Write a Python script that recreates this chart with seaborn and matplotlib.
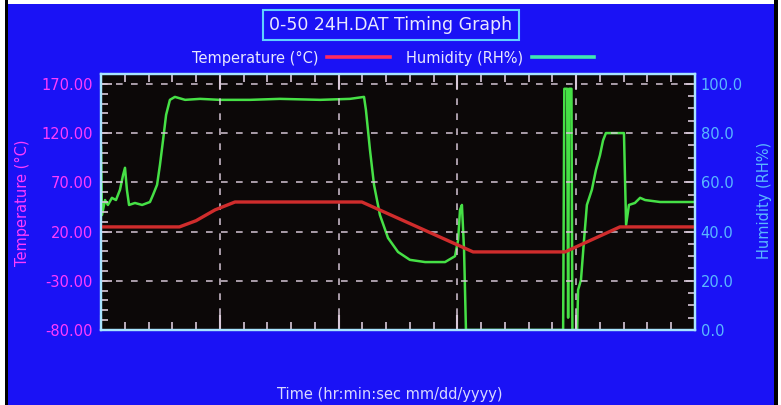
import numpy as np
import pandas as pd
import matplotlib
matplotlib.use('Agg')
import matplotlib.pyplot as plt
from matplotlib.ticker import MultipleLocator, FormatStrFormatter
from matplotlib.lines import Line2D
from matplotlib.patches import Rectangle
import seaborn as sns

# time axis has no labels in the original, so x is just 0..25 divisions
temp_time = [0.0, 3.3, 4.0, 4.8, 5.64, 10.98, 15.66, 19.53, 21.84, 25.0]
temp_vals = [24.7, 24.7, 31.0, 42.0, 50.0, 50.0, -0.7, -0.7, 24.7, 24.7]

hum_time = [0.0, 0.04, 0.17, 0.29, 0.46, 0.63, 0.80, 0.93, 1.01, 1.09, 1.18,
            1.43, 1.73, 2.06, 2.19, 2.36, 2.48, 2.61, 2.74, 2.90, 3.11, 3.54,
            4.17, 5.00, 6.27, 7.53, 9.22, 10.48, 11.07, 11.15, 11.32, 11.49,
            11.74, 12.08, 12.50, 13.00, 13.64, 14.48, 14.90, 15.03, 15.11,
            15.19, 15.28, 15.36, 17.00, 19.45, 19.50, 19.62, 19.66, 19.70,
            19.80, 19.84, 19.99, 20.04, 20.08, 20.20, 20.33, 20.45, 20.66,
            20.83, 21.00, 21.13, 21.25, 21.84, 22.01, 22.10, 22.22, 22.47,
            22.69, 22.90, 23.53, 25.0]
hum_vals = [74.4, 46.7, 52.8, 50.8, 53.7, 52.8, 57.0, 63.0, 65.9, 57.0, 50.8,
            51.6, 50.8, 52.0, 54.9, 59.0, 67.0, 77.0, 87.4, 93.5, 94.7, 93.5,
            93.9, 93.5, 93.5, 93.9, 93.5, 93.9, 94.7, 89.4, 73.2, 59.0, 46.7,
            37.4, 31.7, 28.5, 27.6, 27.6, 30.0, 36.6, 48.8, 50.8, 32.5, 0.0,
            0.0, 0.0, 98.0, 98.0, 5.0, 98.0, 98.0, 0.0, 0.0, 0.0, 16.3, 20.3,
            36.6, 50.8, 57.0, 65.0, 71.0, 77.0, 80.0, 80.0, 80.0, 42.7, 50.8,
            51.6, 53.7, 52.8, 52.0, 52.0]

temp_ticks = [-80, -30, 20, 70, 120, 170]
hum_ticks = [0, 20, 40, 60, 80, 100]

temp = pd.DataFrame({'time': temp_time, 'temp': temp_vals})
hum = pd.DataFrame({'time': hum_time, 'hum': hum_vals})

BLUE = '#1a12f5'
RED = '#d02c2c'
GREEN = '#46e046'
GRID = '#d8c8d8'
SPINE = '#a8e4ff'
MAGENTA = '#ff3cff'
LIGHTBLUE = '#5ab8ff'

fig = plt.figure(figsize=(7.81, 4.05), dpi=100, facecolor='white')
# blue panel with black side borders like the screenshot
fig.add_artist(Rectangle((8/781, 0), 766/781, 401/405, transform=fig.transFigure,
                         facecolor=BLUE, edgecolor='none', zorder=0))
fig.add_artist(Rectangle((5/781, 0), 3/781, 1, transform=fig.transFigure,
                         facecolor='black', edgecolor='none', zorder=0))
fig.add_artist(Rectangle((774/781, 0), 4/781, 1, transform=fig.transFigure,
                         facecolor='black', edgecolor='none', zorder=0))

ax = fig.add_axes([101/781, 75/405, 594/781, 256/405])
ax2 = ax.twinx()

sns.lineplot(data=hum, x='time', y='hum', ax=ax2, color=GREEN, lw=1.8,
             legend=False, zorder=3)
sns.lineplot(data=temp, x='time', y='temp', ax=ax, color=RED, lw=2.4,
             legend=False, zorder=4)
ax.set_zorder(ax2.get_zorder() + 1)
ax.patch.set_visible(False)
ax2.patch.set_visible(True)
ax2.patch.set_facecolor('#0c0808')

ax.set_xlim(0, 25)
ax.set_ylim(-80, 180)
ax2.set_ylim(0, 104)

ax.xaxis.set_major_locator(MultipleLocator(5))
ax.xaxis.set_minor_locator(MultipleLocator(1))
ax.set_yticks(temp_ticks)
ax.yaxis.set_minor_locator(MultipleLocator(10))
ax.yaxis.set_major_formatter(FormatStrFormatter('%.2f'))
ax2.set_yticks(hum_ticks)
ax2.yaxis.set_minor_locator(MultipleLocator(5))
ax2.yaxis.set_major_formatter(FormatStrFormatter('%.1f'))

ax.grid(True, which='major', color=GRID, ls=(0, (4, 5)), lw=1.2, alpha=0.9)
ax.tick_params(axis='x', which='both', direction='in', top=True, bottom=True,
               labelbottom=False, color=GRID)
ax.tick_params(axis='x', which='major', length=11, width=1.5)
ax.tick_params(axis='x', which='minor', length=6, width=1.2)
ax.tick_params(axis='y', which='both', direction='in', color=GRID, width=1.2,
               labelcolor=MAGENTA, labelsize=10.5, pad=6)
ax.tick_params(axis='y', which='major', length=8)
ax.tick_params(axis='y', which='minor', length=5)
ax2.tick_params(axis='y', which='both', direction='in', color=GRID, width=1.2,
                labelcolor=LIGHTBLUE, labelsize=10.5, pad=4)
ax2.tick_params(axis='y', which='major', length=8)
ax2.tick_params(axis='y', which='minor', length=5)
for a in (ax, ax2):
    for s in a.spines.values():
        s.set_color(SPINE)
        s.set_linewidth(1.6)
        s.set_zorder(6)

ax.set_xlabel('')
ax.set_ylabel('')
ax2.set_ylabel('')
fig.text(390/781, 1 - 394/405, 'Time (hr:min:sec mm/dd/yyyy)', ha='center',
         va='center', color='#d8d8ff', fontsize=10.5)
fig.text(22/781, 1 - 203/405, 'Temperature (°C)', rotation=90, ha='center',
         va='center', color=MAGENTA, fontsize=10.5)
fig.text(764/781, 1 - 200/405, 'Humidity (RH%)', rotation=90, ha='center',
         va='center', color=LIGHTBLUE, fontsize=10.5)

fig.text(391/781, 1 - 25/405, '0-50 24H.DAT Timing Graph', ha='center',
         va='center', color='#e8e8ff', fontsize=12.5,
         bbox=dict(boxstyle='square,pad=0.35', facecolor=BLUE,
                   edgecolor='#60d0ff', lw=1.5))

handles = [Line2D([], [], color='#ff2a60', lw=2.6),
           Line2D([], [], color='#40e8b0', lw=2.6)]
fig.legend(handles, ['Temperature (°C)', 'Humidity (RH%)'], ncol=2,
           markerfirst=False, frameon=False, handlelength=4.3,
           columnspacing=1.1, handletextpad=0.6, fontsize=10.5,
           labelcolor='#e8e8ff', loc='center',
           bbox_to_anchor=(393/781, 1 - 58/405))

fig.savefig('out.png', dpi=100, facecolor='white')
